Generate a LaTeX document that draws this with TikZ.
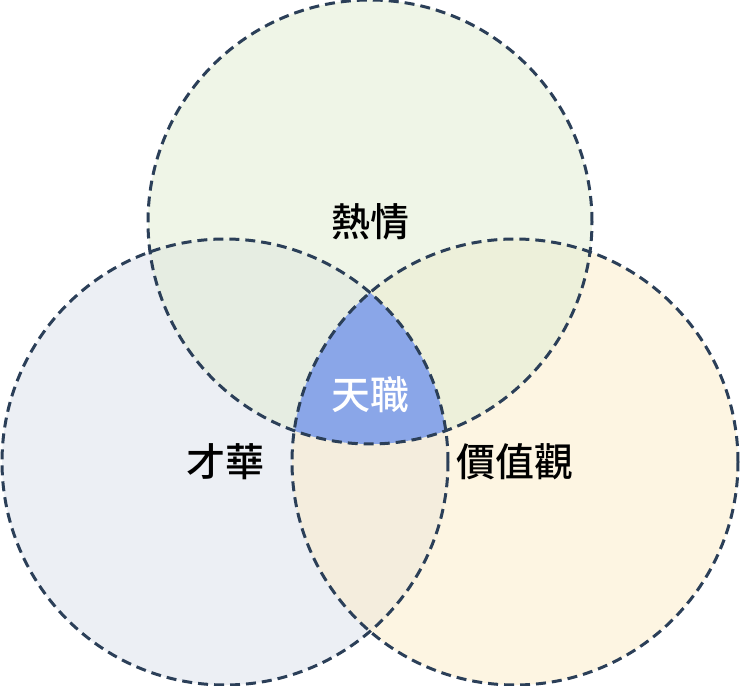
\documentclass[tikz,border=0pt]{standalone}
\usepackage{fontspec}
\newfontfamily\cjk{Noto Sans CJK TC Medium}[BoldFont=Noto Sans CJK TC Bold]
\definecolor{edge}{HTML}{2B3F58}
\definecolor{cgreen}{HTML}{E2ECD3}
\definecolor{cgray}{HTML}{DCE1EB}
\definecolor{cyell}{HTML}{FBEDCB}
\definecolor{cblue}{HTML}{8AA6E8}
\tikzset{ring/.style={draw=edge,line width=3pt,dash pattern=on 10pt off 6pt},
lab/.style={font=\cjk\fontsize{39}{41}\selectfont,text=black}}
\begin{document}
\begin{tikzpicture}[x=1pt,y=1pt]
\useasboundingbox (0,0) rectangle (740,686);
\coordinate (T) at (370,464);
\coordinate (L) at (225,224);
\coordinate (R) at (515,224);
\fill[cgray,fill opacity=0.55] (L) circle (223);
\fill[cyell,fill opacity=0.55] (R) circle (223);
\fill[cgreen,fill opacity=0.55] (T) circle (222);
\begin{scope}
\clip (T) circle (222);
\clip (L) circle (223);
\fill[cblue] (R) circle (223);
\end{scope}
\draw[ring] (L) circle (223);
\draw[ring] (R) circle (223);
\draw[ring] (T) circle (222);
\node[lab] (t) at (370,464) {熱情};
\node[lab] (l) at (225,224) {才華};
\node[lab] (r) at (515,224) {價值觀};
\node[lab,text=white] (c) at (370,291) {天職};
\end{tikzpicture}
\end{document}
